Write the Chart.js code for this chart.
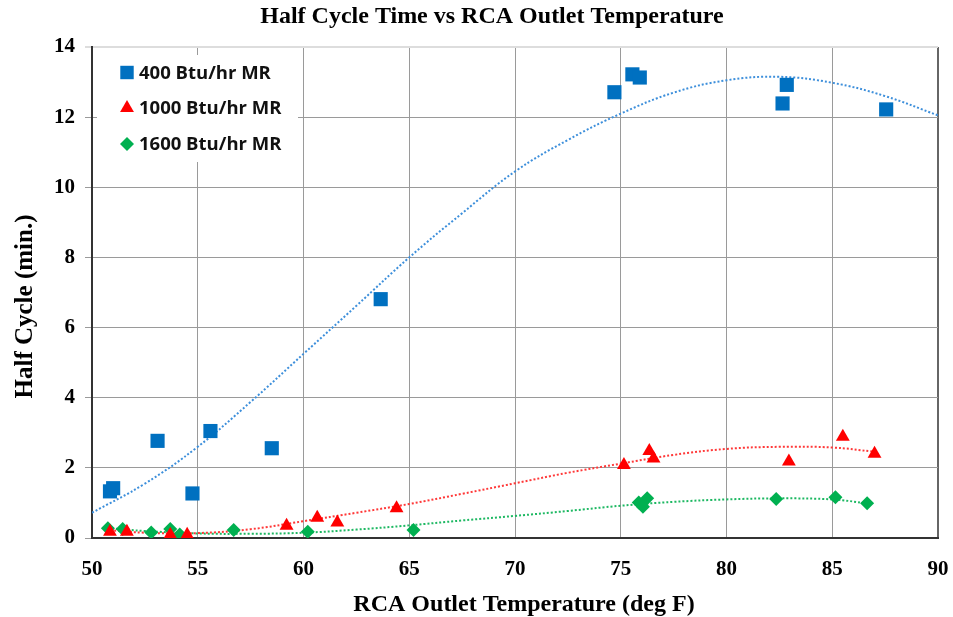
<!DOCTYPE html>
<html><head><meta charset="utf-8">
<script src="https://cdn.jsdelivr.net/npm/chart.js@4.4.0/dist/chart.umd.min.js"></script>
<style>html,body{margin:0;padding:0;background:#fff}#wrap{width:953px;height:617px;position:relative}</style>
</head><body><div id="wrap"><canvas id="c" width="953" height="617"></canvas></div>
<script>
const chartTitle = 'Half Cycle Time vs RCA Outlet Temperature';
const xAxisTitle = 'RCA Outlet Temperature (deg F)';
const yAxisTitle = 'Half Cycle (min.)';
const seriesNames = ['400 Btu/hr MR', '1000 Btu/hr MR', '1600 Btu/hr MR'];
const xTickValues = [50, 55, 60, 65, 70, 75, 80, 85, 90];
const yTickValues = [0, 2, 4, 6, 8, 10, 12, 14];

const blueX = [50.85, 51.0, 53.1, 55.6, 54.75, 58.5, 63.65, 74.7, 75.55, 75.9, 82.85, 82.65, 87.55];
const blueY = [1.33, 1.42, 2.77, 3.05, 1.27, 2.56, 6.81, 12.71, 13.22, 13.13, 12.92, 12.39, 12.22];
const redX = [50.85, 51.65, 53.7, 54.5, 59.2, 60.65, 61.6, 64.4, 75.15, 76.35, 76.55, 82.95, 85.5, 87.0];
const redY = [0.18, 0.18, 0.09, 0.09, 0.35, 0.58, 0.44, 0.85, 2.08, 2.48, 2.27, 2.18, 2.89, 2.40];
const greenX = [50.75, 51.45, 52.8, 53.7, 54.15, 56.7, 60.2, 65.2, 75.85, 76.25, 76.05, 82.35, 85.15, 86.65];
const greenY = [0.28, 0.26, 0.16, 0.26, 0.10, 0.23, 0.18, 0.23, 1.01, 1.13, 0.89, 1.11, 1.16, 0.99];

const blueTrendX = [50, 52.5, 55, 57.5, 60, 62.5, 65, 67.5, 70, 72.5, 75, 77.5, 80, 82.5, 85, 87.5, 90];
const blueTrendY = [0.72, 1.55, 2.6, 3.88, 5.25, 6.62, 8.0, 9.26, 10.45, 11.35, 12.1, 12.7, 13.05, 13.15, 12.98, 12.6, 12.05];
const redTrendX = [50.85, 52.5, 55, 57.5, 60, 62.5, 65, 67.5, 70, 72.5, 75, 77.5, 80, 82.5, 85, 87.0];
const redTrendY = [0.22, 0.15, 0.14, 0.25, 0.48, 0.72, 0.97, 1.26, 1.56, 1.86, 2.12, 2.37, 2.54, 2.6, 2.58, 2.46];
const greenTrendX = [50.75, 52.5, 55, 57.5, 60, 62.5, 65, 67.5, 70, 72.5, 75, 77.5, 80, 82.5, 85, 86.65];
const greenTrendY = [0.28, 0.2, 0.13, 0.12, 0.15, 0.24, 0.36, 0.5, 0.63, 0.77, 0.92, 1.03, 1.1, 1.13, 1.1, 0.99];

const colors = ['#0070C0', '#FF0000', '#00B050'];
const trendColors = ['#3D8FDB', '#FF3838', '#1DB862'];
const styles = [
  {pointStyle: 'rect', radius: 10},
  {pointStyle: 'triangle', radius: 8},
  {pointStyle: 'rectRot', radius: 7}
];

function pts(xs, ys) { return xs.map((x, i) => ({x: x, y: ys[i]})); }

const markerSets = [[blueX, blueY], [redX, redY], [greenX, greenY]].map((s, i) => ({
  label: seriesNames[i],
  data: pts(s[0], s[1]),
  showLine: false,
  backgroundColor: colors[i],
  borderColor: colors[i],
  pointStyle: styles[i].pointStyle,
  pointRadius: styles[i].radius,
  pointHoverRadius: styles[i].radius,
  pointBorderWidth: 0
}));
const trendSets = [[blueTrendX, blueTrendY], [redTrendX, redTrendY], [greenTrendX, greenTrendY]].map((s, i) => ({
  label: seriesNames[i] + ' trend',
  data: pts(s[0], s[1]),
  showLine: true,
  borderColor: trendColors[i],
  backgroundColor: trendColors[i],
  borderWidth: 2,
  borderDash: [2, 2],
  pointRadius: 0,
  tension: 0.4,
  fill: false
}));

const decor = {
  id: 'decor',
  beforeDatasetsDraw(chart) {
    const ctx = chart.ctx, a = chart.chartArea;
    ctx.save();
    ctx.fillStyle = '#ffffff';
    ctx.fillRect(a.left + 5, a.top + 8, 201, 107);
    const ys = [a.top + 25.5, a.top + 61, a.top + 97];
    for (let i = 0; i < 3; i++) {
      ctx.fillStyle = colors[i];
      ctx.strokeStyle = colors[i];
      Chart.helpers.drawPoint(ctx, {pointStyle: styles[i].pointStyle, radius: styles[i].pointStyle === 'rect' ? 9.5 : styles[i].radius, rotation: 0, borderWidth: 0}, a.left + 35, ys[i]);
      ctx.fillStyle = '#111';
      ctx.font = '700 18.5px "Open Sans"';
      ctx.textAlign = 'left';
      ctx.textBaseline = 'middle';
      ctx.fillText(seriesNames[i], a.left + 47, ys[i] + 1);
    }
    ctx.restore();
  },
  afterDraw(chart) {
    const ctx = chart.ctx, a = chart.chartArea;
    ctx.save();
    ctx.fillStyle = '#000';
    ctx.textAlign = 'center';
    ctx.textBaseline = 'alphabetic';
    ctx.font = 'bold 24px "Liberation Serif"';
    ctx.fillText(chartTitle, 492, 23);
    ctx.fillText(xAxisTitle, (a.left + a.right) / 2 + 9, 611);
    ctx.translate(32, (a.top + a.bottom) / 2 + 14);
    ctx.rotate(-Math.PI / 2);
    ctx.font = 'bold 25px "Liberation Serif"';
    ctx.fillText(yAxisTitle, 0, 0);
    ctx.restore();
  }
};

new Chart(document.getElementById('c'), {
  type: 'scatter',
  data: {datasets: markerSets.concat(trendSets)},
  options: {
    responsive: false,
    animation: false,
    devicePixelRatio: 1,
    layout: {padding: {top: 47, right: 15, left: 0, bottom: 0}},
    plugins: {legend: {display: false}, title: {display: false}, tooltip: {enabled: false}},
    scales: {
      x: {
        type: 'linear', min: 50, max: 90,
        afterFit(s) { s.height = 79; s.paddingLeft = 0; s.paddingRight = 0; },
        afterBuildTicks(s) { s.ticks = xTickValues.map(v => ({value: v})); },
        ticks: {color: '#000', font: {family: '"Liberation Serif"', size: 21, weight: 'bold'}, padding: 19},
        grid: {
          color: c => c.tick && c.tick.value === 90 ? '#666' : '#9a9a9a',
          lineWidth: c => c.tick && c.tick.value === 90 ? 2 : 1,
          drawTicks: false
        },
        border: {color: '#333', width: 2}
      },
      y: {
        type: 'linear', min: 0, max: 14,
        afterFit(s) { s.width = 92; s.paddingTop = 0; s.paddingBottom = 0; },
        afterBuildTicks(s) { s.ticks = yTickValues.map(v => ({value: v})); },
        ticks: {color: '#000', font: {family: '"Liberation Serif"', size: 21, weight: 'bold'}, padding: 10},
        grid: {
          color: c => c.tick && c.tick.value === 14 ? '#dddddd' : '#9a9a9a',
          lineWidth: c => c.tick && c.tick.value === 14 ? 2 : 1,
          drawTicks: true, tickLength: 7
        },
        border: {color: '#333', width: 2}
      }
    }
  },
  plugins: [decor]
});
</script></body></html>
